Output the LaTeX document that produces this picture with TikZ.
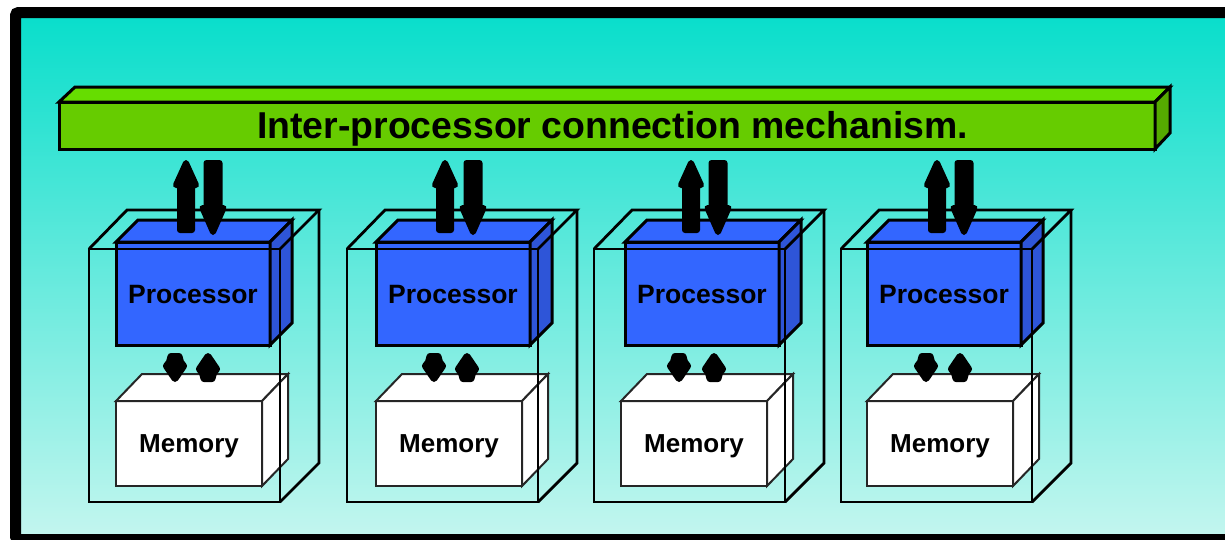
\documentclass[tikz,border=0pt]{standalone}
\usepackage{fontspec}
\setmainfont{Liberation Sans}
\definecolor{bgtop}{HTML}{08DECB}
\definecolor{bgbot}{HTML}{C4F6EF}
\definecolor{barfront}{HTML}{66CC00}
\definecolor{bartop}{HTML}{66DD00}
\definecolor{barside}{HTML}{55AA00}
\definecolor{procfront}{HTML}{3366FF}
\definecolor{procside}{HTML}{2E55D8}
\tikzset{
  barface/.style={draw=black, line width=3pt},
  procface/.style={draw=black, line width=3pt},
  memface/.style={fill=white, draw=black!85, line width=2pt},
  wire/.style={draw=black, line width=2.8pt},
  blockarrow/.style={fill=black, draw=black, line width=6pt, line join=round},
  smallarrow/.style={fill=black, draw=black, line width=7pt, line join=round},
  lbl/.style={anchor=base, inner sep=0pt},
}
\begin{document}
\begin{tikzpicture}[x=1pt,y=-1pt]
\useasboundingbox (0,0) rectangle (1225,539);
\clip (0,0) rectangle (1225,539);
% background frame
\shade[top color=bgtop,bottom color=bgbot] (15.5,12.5) rectangle (1260,539.5);
\draw[line width=11pt, rounded corners=3pt] (15.5,12.5) rectangle (1260,539.5);
% interconnect bar
\filldraw[barface, fill=barfront] (59,102) rectangle (1155,149);
\filldraw[barface, fill=bartop] (59,102) -- (75,87) -- (1170,87) -- (1155,102) -- cycle;
\filldraw[barface, fill=barside] (1155,102) -- (1170,87) -- (1170,133) -- (1155,149) -- cycle;
\node[lbl, font=\bfseries\fontsize{37.4}{40}\selectfont] (title) at (612.5,138) {Inter-processor connection mechanism.};
% units
\foreach \i/\xo/\xp/\xm/\ua/\da/\sa/\sb in
  {1/89/116/116/186/213/175/208,
   2/347/376/376/445/473/434/467,
   3/594/625/621/691/718/679/714,
   4/841/867/867/937/964/926/960}{
  % processor
  \filldraw[procface, fill=procfront] (\xp,242) rectangle (\xp+154,345);
  \filldraw[procface, fill=procfront] (\xp,242) -- (\xp+22,220) -- (\xp+176,220) -- (\xp+154,242) -- cycle;
  \filldraw[procface, fill=procside] (\xp+154,242) -- (\xp+176,220) -- (\xp+176,323) -- (\xp+154,345) -- cycle;
  \node[lbl, font=\bfseries\fontsize{26.5}{28}\selectfont] (proc\i) at (\xp+77,303) {Processor};
  % memory
  \filldraw[memface] (\xm,401) rectangle (\xm+146,486);
  \filldraw[memface] (\xm,401) -- (\xm+26,374) -- (\xm+172,374) -- (\xm+146,401) -- cycle;
  \filldraw[memface] (\xm+146,401) -- (\xm+172,374) -- (\xm+172,459) -- (\xm+146,486) -- cycle;
  \node[lbl, font=\bfseries\fontsize{26}{28}\selectfont] (mem\i) at (\xm+73,452) {Memory};
  % wire-frame enclosure
  \draw[wire] (\xo,249) rectangle (\xo+191,502);
  \draw[wire] (\xo,249) -- (\xo+38,210) -- (\xo+230,210) -- (\xo+191,249);
  \draw[wire] (\xo+230,210) -- (\xo+230,463) -- (\xo+191,502);
  % big arrows to bar
  \filldraw[blockarrow] (\ua,163) -- (\ua+10,185) -- (\ua+6,185) -- (\ua+6,230) -- (\ua-6,230) -- (\ua-6,185) -- (\ua-10,185) -- cycle;
  \filldraw[blockarrow] (\da-6.5,163) -- (\da+6.5,163) -- (\da+6.5,208) -- (\da+10.5,208) -- (\da,232) -- (\da-10.5,208) -- (\da-6.5,208) -- cycle;
  % small arrows processor <-> memory
  \filldraw[smallarrow] (\sa-4,356.5) -- (\sa+4,356.5) -- (\sa+5.5,362) -- (\sa+8.5,366) -- (\sa,378.5) -- (\sa-8.5,366) -- (\sa-5.5,362) -- cycle;
  \filldraw[smallarrow] (\sb,356.5) -- (\sb+8.5,369) -- (\sb+5.5,373) -- (\sb+4,378.5) -- (\sb-4,378.5) -- (\sb-5.5,373) -- (\sb-8.5,369) -- cycle;
}
\end{tikzpicture}
\end{document}
